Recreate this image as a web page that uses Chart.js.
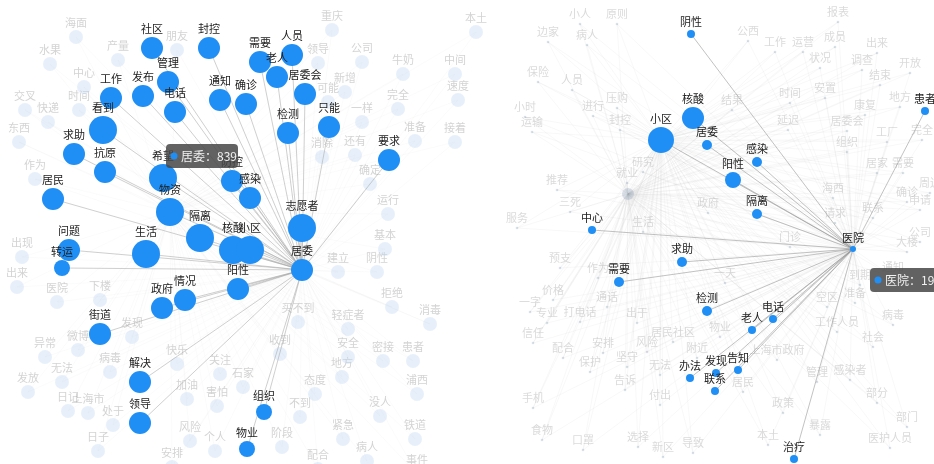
<!DOCTYPE html>
<html>
<head>
<meta charset="utf-8">
<script src="https://cdn.jsdelivr.net/npm/chart.js@4.4.1/dist/chart.umd.min.js"></script>
<style>
  html, body { margin: 0; padding: 0; background: #fff; }
  #wrap { position: relative; width: 934px; height: 464px; }
</style>
</head>
<body>
<div id="wrap"><canvas id="graph" width="934" height="464"></canvas></div>
<script>
// ---- left graph: neighbours of 居委 ----
const leftHub = { word: '居委', x: 302, y: 270, r: 11, count: 839 };
const leftWords = ['社区','封控','管理','工作','发布','电话','通知','需要','人员','老人','居委会','确诊','检测','只能','要求','看到','求助','抗原','希望','物资','居民','防控','感染','隔离','核酸','小区','志愿者','问题','转运','生活','阳性','情况','政府','街道','解决','领导','组织','物业'];
const leftX = [152,209,168,111,143,175,220,260,292,277,305,246,288,329,389,103,74,105,163,170,53,232,250,200,233,250,302,69,62,146,238,185,162,100,140,140,264,247];
const leftY = [48,48,82,98,96,112,100,62,55,77,94,104,133,127,160,130,154,172,178,212,199,181,198,238,250,250,228,250,268,254,289,300,308,334,382,423,412,449];
const leftSize = [11,11,11,11,11,11,11,11,11,11,11,11,11,11,11,14,11,11,14,14,11,11,11,14,14,14,14,11,8,14,11,11,11,11,11,11,8,8];

// ---- right graph: neighbours of 医院 ----
const rightHub = { word: '医院', x: 853, y: 249, r: 3, count: 196 };
const rightWords = ['阴性','核酸','小区','居委','感染','阳性','隔离','中心','求助','需要','患者','检测','电话','老人','办法','发现','告知','联系','治疗'];
const rightX = [691,693,661,707,757,733,757,592,682,619,925,707,773,752,690,716,738,715,794];
const rightY = [34,118,140,145,162,180,214,230,262,282,111,311,319,330,378,373,370,391,459];
const rightSize = [4,11,13,5,5,8,5,4,5,5,4,5,4,4,4,4,4,4,4];

// ---- faded background words ----
const bgLeftWords = ['海面','水果','产量','中心','交叉','时间','快递','东西','朋友','重庆','领导','公司','牛奶','新增','可能','完全','一样','准备','还有','消除','作为','出现','出来','医院','下楼','确定','运行','基本','阴性','建立','拒绝','微博','异常','发现','病毒','无法','发放','快乐','关注','日记','上海市','加油','害怕','处于','风险','日子','个人','安排','买不到','轻症者','消毒','收到','安全','密接','患者','地方','石家','态度','浦西','不到','没人','紧急','铁道','阶段','病人','配合','事件','本土','中间','速度','接着'];
const bgLeftX = [76,50,118,84,25,79,48,19,177,332,318,362,403,345,328,398,362,415,355,322,35,22,17,57,100,370,388,385,377,338,392,78,45,132,110,62,28,177,220,68,88,187,217,113,190,98,215,172,298,348,430,280,348,383,413,342,243,315,417,300,380,343,415,282,367,318,417,476,455,458,455];
const bgLeftY = [23,50,46,73,96,96,108,128,36,16,49,48,60,78,88,95,108,127,141,143,165,243,273,288,286,170,200,235,258,258,293,336,343,323,358,368,378,350,360,397,399,385,392,411,427,437,437,453,308,315,310,340,343,347,347,363,373,380,380,403,402,425,425,433,447,455,460,18,60,86,128];

const bgRightWords = ['小人','原则','边家','病人','保险','人员','小时','进行','压购','运输','封控','报表','公西','工作','运营','成员','出来','调查','开放','结束','状况','安置','时间','地方','结果','康复','居委会','组织','延迟','工厂','完全','研究','推荐','就业','三死','生活','服务','预支','作为','价格','一字','通话','居家','需要','海西','确诊','周边','请求','联系','公司','门诊','大楼','通知','到期','准备','空区','一天','政府','申请','专业','打电话','出于','信任','配合','安排','居民社区','风险','保护','坚守','无法','告诉','付出','手机','食物','口罩','选择','新区','导致','附近','工作人员','病毒','社会','上海市政府','管理','感染者','部分','居民','政策','部门','暴露','本土','医护人员','物业'];
const bgRightX = [580,617,548,587,538,572,525,593,617,532,620,838,748,775,803,835,877,862,910,880,820,825,790,900,732,865,847,847,788,887,922,643,557,627,570,643,517,560,598,553,530,607,877,903,833,907,930,835,873,920,790,907,893,860,855,827,725,708,920,547,580,637,533,563,603,673,647,590,627,660,625,660,533,542,583,638,663,693,697,837,893,873,777,817,850,877,743,783,907,820,768,890,720];
const bgRightY = [14,14,32,35,72,80,107,106,98,122,120,12,31,42,42,37,43,60,63,75,58,88,93,97,100,105,121,142,120,132,130,162,180,173,202,222,218,258,268,290,302,297,163,163,188,192,183,213,208,232,237,242,267,275,293,297,273,203,200,313,312,313,333,348,343,332,342,362,357,365,380,395,398,430,440,437,447,443,348,322,315,337,350,372,370,393,382,403,417,425,435,438,327];
const bgRightCore = { x: 628, y: 194 };

// ---- helpers ----
function nodes(xs, ys, rs) {
  return xs.map((x, i) => ({ x: x, y: ys[i], r: rs[i] }));
}
function star(hub, xs, ys) {
  let pts = [];
  xs.forEach((x, i) => {
    pts.push({ x: hub.x, y: hub.y }, { x: x, y: ys[i] }, { x: null, y: null });
  });
  return pts;
}

const leftNodes = nodes(leftX, leftY, leftSize).concat([{ x: leftHub.x, y: leftHub.y, r: leftHub.r }]);
const rightNodes = nodes(rightX, rightY, rightSize).concat([{ x: rightHub.x, y: rightHub.y, r: rightHub.r }]);
const bgLeftNodes = bgLeftX.map((x, i) => ({ x: x, y: bgLeftY[i] + 14, r: 7 }));
const bgRightNodes = bgRightX.map((x, i) => ({ x: x, y: bgRightY[i] + 10, r: 1.3 }));

// faint edges of the whole graph, drawn behind the highlighted ones
const bgLeftEdges = star(leftHub, bgLeftX, bgLeftY.map(y => y + 14))
  .concat(star({ x: 170, y: 212 }, bgLeftX, bgLeftY.map(y => y + 14)));
const bgRightEdges = star(bgRightCore, bgRightX, bgRightY.map(y => y + 10))
  .concat(star(rightHub, bgRightX, bgRightY.map(y => y + 10)))
  .concat(star({ x: 661, y: 140 }, bgRightX, bgRightY.map(y => y + 10)));

const blue = '#1f8ff5';
const labelFont = '11px "Noto Sans CJK SC", "Noto Sans", sans-serif';

const labelPlugin = {
  id: 'labels',
  beforeDatasetsDraw(chart) {
    const ctx = chart.ctx;
    const xs = chart.scales.x, ys = chart.scales.y;
    ctx.save();
    ctx.font = labelFont;
    ctx.textAlign = 'center';
    ctx.textBaseline = 'middle';
    ctx.fillStyle = 'rgba(150,150,150,0.42)';
    bgLeftWords.forEach((w, i) => ctx.fillText(w, xs.getPixelForValue(bgLeftX[i]), ys.getPixelForValue(bgLeftY[i])));
    ctx.fillStyle = 'rgba(150,150,150,0.35)';
    bgRightWords.forEach((w, i) => ctx.fillText(w, xs.getPixelForValue(bgRightX[i]), ys.getPixelForValue(bgRightY[i])));
    ctx.restore();
  },
  afterDatasetsDraw(chart) {
    const ctx = chart.ctx;
    ctx.save();
    ctx.font = labelFont;
    ctx.textAlign = 'center';
    ctx.textBaseline = 'bottom';
    ctx.fillStyle = '#222';
    const put = (meta, words) => {
      meta.data.forEach((el, i) => {
        const r = meta._dataset.data[i].r;
        ctx.fillText(words[i], el.x, el.y - r - 3);
      });
    };
    put(chart.getDatasetMeta(0), leftWords.concat([leftHub.word]));
    put(chart.getDatasetMeta(1), rightWords.concat([rightHub.word]));
    ctx.restore();
  },
  afterDraw(chart) {
    const ctx = chart.ctx;
    const xs = chart.scales.x, ys = chart.scales.y;
    const tip = (x, y, w, text) => {
      const px = xs.getPixelForValue(x), py = ys.getPixelForValue(y);
      ctx.save();
      ctx.fillStyle = 'rgba(70,70,70,0.85)';
      ctx.beginPath();
      ctx.roundRect(px, py, w, 24, 4);
      ctx.fill();
      ctx.fillStyle = blue;
      ctx.beginPath();
      ctx.arc(px + 8, py + 12, 3.5, 0, Math.PI * 2);
      ctx.fill();
      ctx.fillStyle = '#f2f2f2';
      ctx.font = '12px "Noto Sans CJK SC", sans-serif';
      ctx.textBaseline = 'middle';
      ctx.fillText(text, px + 15, py + 12.5);
      ctx.restore();
    };
    tip(166, 144, 72, leftHub.word + '：' + leftHub.count);
    tip(870, 268, 80, rightHub.word + '：' + rightHub.count);
  }
};

new Chart(document.getElementById('graph'), {
  type: 'bubble',
  data: {
    datasets: [
      { data: leftNodes, backgroundColor: blue, borderWidth: 0, order: 1 },
      { data: rightNodes, backgroundColor: blue, borderWidth: 0, order: 1 },
      { type: 'scatter', showLine: true, data: star(leftHub, leftX, leftY), borderColor: 'rgba(165,165,165,0.6)', borderWidth: 0.9, pointRadius: 0, spanGaps: false, order: 2 },
      { type: 'scatter', showLine: true, data: star(rightHub, rightX, rightY), borderColor: 'rgba(150,150,150,0.65)', borderWidth: 0.9, pointRadius: 0, spanGaps: false, order: 2 },
      { data: bgLeftNodes, backgroundColor: 'rgba(185,212,240,0.35)', borderWidth: 0, order: 3 },
      { data: bgRightNodes.concat([{ x: bgRightCore.x, y: bgRightCore.y, r: 6 }]), backgroundColor: 'rgba(150,165,190,0.35)', borderWidth: 0, order: 3 },
      { type: 'scatter', showLine: true, data: bgLeftEdges, borderColor: 'rgba(180,180,180,0.10)', borderWidth: 0.6, pointRadius: 0, spanGaps: false, order: 4 },
      { type: 'scatter', showLine: true, data: bgRightEdges, borderColor: 'rgba(170,170,170,0.14)', borderWidth: 0.6, pointRadius: 0, spanGaps: false, order: 4 }
    ]
  },
  options: {
    responsive: false,
    animation: false,
    events: [],
    layout: { padding: 0, autoPadding: false },
    plugins: { legend: { display: false }, tooltip: { enabled: false } },
    scales: {
      x: { type: 'linear', min: 0, max: 934, display: false },
      y: { type: 'linear', min: 0, max: 464, reverse: true, display: false }
    }
  },
  plugins: [labelPlugin]
});
</script>
</body>
</html>
